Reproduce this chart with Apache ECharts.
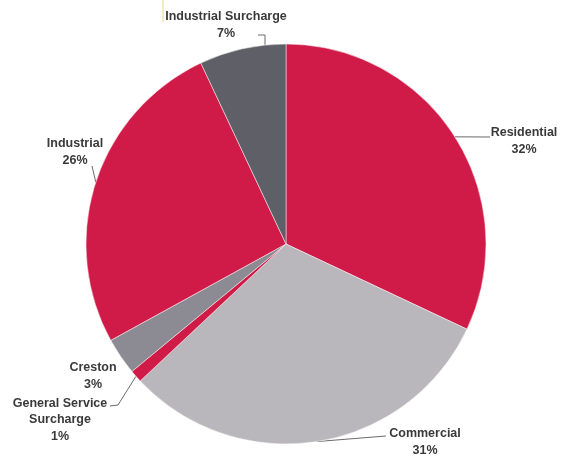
<!DOCTYPE html>
<html>
<head>
<meta charset="utf-8">
<script src="https://cdn.jsdelivr.net/npm/echarts@6/dist/echarts.min.js"></script>
<style>
  html, body { margin: 0; padding: 0; background: #ffffff; }
  #chart { width: 563px; height: 457px; }
</style>
</head>
<body>
<div id="chart"></div>
<script>
// Revenue share by customer class (percent), clockwise from 12 o'clock
const categories = ['Residential', 'Commercial', 'General Service\nSurcharge', 'Creston', 'Industrial', 'Industrial Surcharge'];
const shares = [32, 31, 1, 3, 26, 7];
const sliceColors = ['#d01a47', '#b9b7bc', '#d01a47', '#8c8a92', '#d01a47', '#5f5f68'];

// Where each label block sits (centre point, px)
const labelSpots = [
  [524, 141],
  [425, 442],
  [60, 420],
  [93, 376],
  [75, 152],
  [226, 25]
];

// Leader-line vertices; 'edge' stands for the default point on the slice rim
// (null = no leader)
const leaderPaths = [
  ['edge', [490, 137]],
  ['edge', [386, 436]],
  ['edge', [118, 405], [110, 406]],
  null,
  ['edge', [92, 166]],
  [[265, 46], [265, 35], [258, 35]]
];

const chart = echarts.init(document.getElementById('chart'), null, { renderer: 'canvas' });

chart.setOption({
  backgroundColor: '#ffffff',
  animation: false,
  graphic: [{
    type: 'line',
    shape: { x1: 163, y1: 0, x2: 163, y2: 22 },
    style: { stroke: '#ece6a8', lineWidth: 1.5 }
  }],
  series: [{
    type: 'pie',
    center: [286, 244],
    radius: [0, 200],
    startAngle: 90,
    clockwise: true,
    avoidLabelOverlap: false,
    itemStyle: { borderColor: 'rgba(255,255,255,0.6)', borderWidth: 0.8 },
    label: {
      show: true,
      formatter: p => p.name + '\n' + p.value + '%',
      color: '#3a3a3a',
      fontFamily: 'Liberation Sans, Arial, sans-serif',
      fontWeight: 'bold',
      fontSize: 12.5,
      lineHeight: 16.5,
      align: 'center'
    },
    labelLine: {
      show: true,
      length: 10,
      length2: 10,
      lineStyle: { color: '#6a6a6a', width: 1 }
    },
    labelLayout: function (params) {
      const i = params.dataIndex;
      const spot = labelSpots[i];
      const out = { x: spot[0], y: spot[1], align: 'center', verticalAlign: 'middle' };
      const path = leaderPaths[i];
      if (path && params.labelLinePoints && params.labelLinePoints.length) {
        const rim = params.labelLinePoints[0];
        const pts = path.map(p => (p === 'edge' ? rim : p));
        while (pts.length < 3) pts.push(pts[pts.length - 1]);
        out.labelLinePoints = pts;
      }
      return out;
    },
    data: categories.map((name, i) => ({
      name: name,
      value: shares[i],
      itemStyle: { color: sliceColors[i] },
      labelLine: { show: leaderPaths[i] !== null }
    }))
  }]
});
</script>
</body>
</html>
